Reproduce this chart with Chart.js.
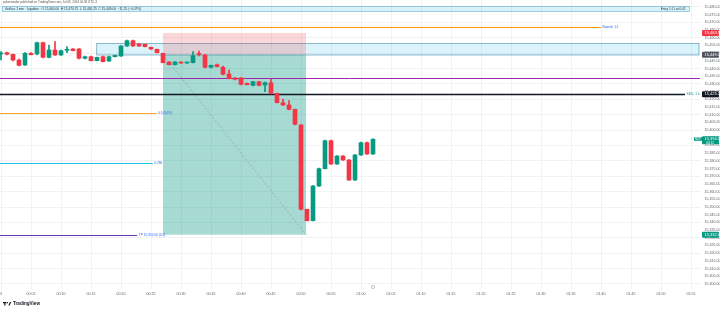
<!DOCTYPE html>
<html><head><meta charset="utf-8">
<script src="https://cdn.jsdelivr.net/npm/chart.js@4/dist/chart.umd.min.js"></script>
<style>html,body{margin:0;padding:0;background:#fff}canvas{display:block}</style>
</head><body>
<canvas id="c" width="720" height="310"></canvas>
<script>
// ---- data ----
const candleIndex = [0,1,2,3,4,5,6,7,8,9,10,11,12,13,14,15,16,17,18,19,20,21,22,23,24,25,26,27,28,29,30,31,32,33,34,35,36,37,38,39,40,41,42,43,44,45,46,47,48,49,50,51,52,53,54,55,56,57,58,59,60,61,62];
const openP  = [15449.45,15450.30,15449.25,15445.55,15442.30,15449.90,15449.45,15456.80,15447.30,15452.05,15448.80,15451.86,15452.70,15452.70,15446.65,15447.70,15445.10,15447.70,15444.90,15447.70,15448.15,15454.65,15458.10,15455.95,15455.76,15453.80,15452.51,15449.90,15444.25,15442.50,15444.06,15443.60,15443.80,15449.78,15448.80,15440.80,15442.50,15440.80,15436.45,15433.85,15433.85,15430.41,15429.10,15431.44,15429.30,15430.80,15423.90,15417.80,15416.30,15413.51,15403.30,15348.50,15341.10,15363.65,15374.90,15393.10,15377.95,15383.15,15380.55,15367.55,15383.80,15391.80,15384.45];
const highP  = [15450.95,15450.75,15449.45,15446.20,15450.43,15450.43,15457.25,15457.25,15455.30,15457.45,15452.05,15454.20,15453.03,15453.03,15448.15,15448.15,15447.50,15448.15,15448.15,15448.80,15454.98,15458.55,15458.55,15456.28,15455.95,15454.00,15452.70,15450.10,15444.58,15444.58,15444.25,15444.25,15450.95,15451.40,15449.13,15442.30,15442.95,15441.65,15439.05,15434.18,15434.18,15430.60,15431.70,15431.70,15431.25,15433.01,15424.10,15420.20,15419.10,15413.70,15403.63,15348.70,15363.98,15375.35,15393.55,15393.55,15383.48,15383.48,15380.88,15384.13,15392.25,15392.25,15394.53];
const lowP   = [15445.55,15448.80,15444.90,15441.65,15441.98,15448.80,15448.80,15446.85,15446.85,15448.48,15448.48,15450.30,15451.40,15446.20,15446.20,15444.90,15444.90,15444.25,15444.58,15447.50,15447.83,15454.33,15454.33,15454.33,15454.00,15452.38,15450.10,15443.60,15442.30,15442.30,15443.28,15443.28,15443.60,15448.15,15440.48,15440.48,15441.00,15435.93,15433.20,15432.68,15429.43,15429.30,15428.78,15428.78,15424.94,15423.58,15417.60,15415.98,15413.18,15403.30,15348.05,15340.90,15340.90,15363.33,15374.70,15377.63,15377.63,15380.23,15367.23,15367.23,15383.48,15384.13,15384.13];
const closeP = [15450.10,15449.25,15445.55,15442.10,15449.90,15449.00,15456.80,15447.30,15452.05,15448.80,15451.60,15452.18,15451.60,15446.65,15447.70,15445.10,15447.30,15444.45,15447.70,15448.60,15454.65,15458.10,15454.65,15454.65,15454.20,15452.70,15450.30,15443.80,15442.50,15444.25,15443.60,15444.06,15448.35,15449.13,15440.80,15442.10,15441.20,15436.26,15433.40,15433.01,15429.76,15429.50,15431.44,15429.10,15430.80,15423.90,15417.80,15416.30,15413.51,15403.76,15348.50,15341.10,15363.65,15374.90,15393.10,15377.95,15383.15,15380.55,15367.55,15383.80,15391.80,15384.45,15394.00];

const xTickIndex  = [0,5,10,15,20,25,30,35,40,45,50,55,60,65,70,75,80,85,90,95,100,105,110,115];
const xTickLabels = ["3","00:05","00:10","00:15","00:20","00:25","00:30","00:35","00:40","00:45","00:50","00:55","01:00","01:05","01:10","01:15","01:20","01:25","01:30","01:35","01:40","01:45","01:50","01:55"];
const yTickValues = [15480,15475,15470,15465,15460,15455,15450,15445,15440,15435,15430,15425,15420,15415,15410,15405,15400,15395,15390,15385,15380,15375,15370,15365,15360,15355,15350,15345,15340,15335,15330,15325,15320,15315,15310,15305,15300];

// position tool (short)
const positionFrom = 27, positionTo = 50.83;
const stopPrice = 15463.10, entryPrice = 15449.00, targetPrice = 15332.00;
// supply zone
const zoneFrom = 15.95, zoneTop = 15456.28, zoneBottom = 15448.80;
// horizontal levels
const levelPrices = [15467.20, 15434.05, 15423.25, 15411.30, 15378.40, 15332.00];
const levelFrom   = [-1, -1, -1, -1, -1, -1];
const levelTo     = [100, 116.5, 114, 25.95, 25.3, 22.7];
const levelTexts  = ["Bearish 1:1", "", "SELL 1 Lote", "0.5 (50%)", "0.786", "TP 15,332.00 (3.2)"];
const noteText = "Gráfico 1 min · Liquidez · O 15,460.00  H 15,470.75  L 15,440.25  C 15,449.00  −11.25 (−0.07%)";
const noteRight = "Entry 1:1 Lot 0.01";
const headerText = "pokerwinder published on TradingView.com, Jul 03, 2024 00:58 UTC-3";

// ---- styles ----
const UP = '#089981', DOWN = '#F23645';
const levelColors = ['#ff9800', '#9c27b0', '#131722', '#ffa726', '#26c6da', '#673ab7'];
const levelTextColors = ['#2962ff', '#2962ff', '#089981', '#2962ff', '#2962ff', '#2962ff'];
const FONT = "'Liberation Sans', Arial, sans-serif";

const isUp = candleIndex.map((_, i) => closeP[i] >= openP[i]);
const colors = isUp.map(u => u ? UP : DOWN);
const fmt = v => v.toLocaleString('en-US', {minimumFractionDigits: 2, maximumFractionDigits: 2});

const drawings = {
  id: 'drawings',
  beforeDatasetsDraw(chart) {
    const {ctx, chartArea: a, scales: {x, y}} = chart;
    const X = v => x.getPixelForValue(v), Y = v => y.getPixelForValue(v);
    ctx.save();
    ctx.beginPath(); ctx.rect(a.left, a.top, a.right - a.left, a.bottom - a.top); ctx.clip();
    // note banner
    const bx0 = X(0.17), bx1 = X(114.8), by0 = Y(15480.65), by1 = Y(15477.0);
    ctx.fillStyle = 'rgba(0,172,230,0.16)';
    ctx.fillRect(bx0, by0, bx1 - bx0, by1 - by0);
    ctx.strokeStyle = 'rgba(60,150,190,0.7)'; ctx.lineWidth = 0.6;
    ctx.strokeRect(bx0 + 0.3, by0 + 0.3, bx1 - bx0 - 0.6, by1 - by0 - 0.6);
    ctx.fillStyle = '#2a3340'; ctx.font = '3.2px ' + FONT; ctx.textBaseline = 'middle';
    ctx.textAlign = 'left'; ctx.fillText(noteText, bx0 + 3, (by0 + by1) / 2);
    ctx.textAlign = 'right'; ctx.fillText(noteRight, bx1 - 4, (by0 + by1) / 2);
    // supply zone
    const zx0 = X(zoneFrom), zx1 = a.right - 1, zy0 = Y(zoneTop), zy1 = Y(zoneBottom);
    ctx.fillStyle = 'rgba(0,172,230,0.14)';
    ctx.fillRect(zx0, zy0, zx1 - zx0, zy1 - zy0);
    ctx.strokeStyle = 'rgba(70,140,170,0.75)'; ctx.lineWidth = 0.8;
    ctx.strokeRect(zx0, zy0, zx1 - zx0, zy1 - zy0);
    // position tool
    const px0 = X(positionFrom), px1 = X(positionTo);
    ctx.fillStyle = 'rgba(242,54,69,0.2)';
    ctx.fillRect(px0, Y(stopPrice), px1 - px0, Y(entryPrice) - Y(stopPrice));
    ctx.fillStyle = 'rgba(8,153,129,0.36)';
    ctx.fillRect(px0, Y(entryPrice), px1 - px0, Y(targetPrice) - Y(entryPrice));
    ctx.strokeStyle = 'rgba(110,115,125,0.55)'; ctx.lineWidth = 0.7; ctx.setLineDash([2, 2]);
    ctx.beginPath(); ctx.moveTo(px0, Y(entryPrice)); ctx.lineTo(px1, Y(targetPrice)); ctx.stroke();
    ctx.setLineDash([]);
    // levels
    levelPrices.forEach((p, k) => {
      const yy = Math.round(Y(p)) + 0.5;
      ctx.strokeStyle = levelColors[k]; ctx.lineWidth = k === 2 ? 1.3 : 1;
      ctx.beginPath(); ctx.moveTo(X(levelFrom[k]), yy); ctx.lineTo(X(levelTo[k]), yy); ctx.stroke();
      if (levelTexts[k]) {
        ctx.fillStyle = levelTextColors[k]; ctx.font = '3.2px ' + FONT;
        ctx.textAlign = 'left'; ctx.textBaseline = 'middle';
        ctx.fillText(levelTexts[k], X(levelTo[k]) + 1.5, yy);
      }
    });
    ctx.restore();
  },
  afterDraw(chart) {
    const {ctx, chartArea: a, scales: {x, y}} = chart;
    const Y = v => y.getPixelForValue(v);
    ctx.save();
    const tag = (price, bg, fg, h) => {
      const yy = Y(price);
      ctx.fillStyle = bg;
      ctx.beginPath(); ctx.roundRect(702, yy - 3, 17, h || 6, 1); ctx.fill();
      ctx.fillStyle = fg; ctx.font = '4px ' + FONT; ctx.textAlign = 'left'; ctx.textBaseline = 'middle';
      ctx.fillText(fmt(price), 704.5, yy);
    };
    tag(stopPrice, DOWN, '#fff');
    tag(entryPrice, '#50535e', '#fff');
    tag(levelPrices[2], '#131722', '#fff');
    const last = closeP[closeP.length - 1];
    tag(last, UP, '#fff', 8);
    ctx.fillStyle = UP; ctx.fillRect(694, Y(last) - 2, 8, 3.5);
    ctx.fillStyle = '#fff'; ctx.font = '2.6px ' + FONT; ctx.textAlign = 'left';
    ctx.fillText('NQ1!', 695, Y(last) - 0.3);
    ctx.font = '3.2px ' + FONT; ctx.fillText('00:12', 706, Y(last) + 3.4);
    tag(targetPrice, UP, '#fff');
    // header
    ctx.fillStyle = '#555'; ctx.font = '3px ' + FONT; ctx.textAlign = 'left'; ctx.textBaseline = 'middle';
    ctx.fillText(headerText, 3, 2.4);
    // session icon
    ctx.strokeStyle = '#9598a1'; ctx.lineWidth = 0.6;
    ctx.beginPath(); ctx.arc(x.getPixelForValue(62), 287, 1.6, 0, Math.PI * 2); ctx.stroke();
    // TradingView logo
    ctx.fillStyle = '#131722';
    ctx.fillRect(3, 302, 3, 1.3); ctx.fillRect(4.3, 302, 1.2, 3.6);
    ctx.beginPath(); ctx.arc(7.2, 302.7, 0.8, 0, Math.PI * 2); ctx.fill();
    ctx.beginPath(); ctx.moveTo(8.3, 305.6); ctx.lineTo(10, 302); ctx.lineTo(11.3, 302); ctx.lineTo(9.6, 305.6); ctx.fill();
    ctx.font = 'bold 4.6px ' + FONT; ctx.textBaseline = 'middle';
    ctx.fillText('TradingView', 13, 303.9);
    ctx.restore();
  }
};

new Chart(document.getElementById('c'), {
  type: 'bar',
  data: {
    datasets: [
      {
        label: 'wick', order: 2, grouped: false, barThickness: 1, minBarLength: 1,
        data: candleIndex.map((i) => ({x: i, y: [lowP[i], highP[i]]})),
        backgroundColor: colors, borderWidth: 0
      },
      {
        label: 'body', order: 1, grouped: false, barThickness: 4, minBarLength: 1,
        data: candleIndex.map((i) => ({x: i, y: [openP[i], closeP[i]]})),
        backgroundColor: colors, borderWidth: 0
      }
    ]
  },
  options: {
    responsive: false, animation: false, devicePixelRatio: 1,
    layout: {padding: {left: 0, right: 0, top: 0, bottom: 13}},
    plugins: {legend: {display: false}, tooltip: {enabled: false}},
    scales: {
      x: {
        type: 'linear', offset: false, min: -0.1667, max: 116.5,
        grid: {offset: false, drawTicks: false, color: '#f0f2f6', lineWidth: 1},
        border: {display: false},
        afterBuildTicks: s => { s.ticks = xTickIndex.map(v => ({value: v})); },
        afterFit: s => { s.height = 8; s.paddingLeft = 0; s.paddingRight = 0; },
        ticks: {
          autoSkip: false, maxRotation: 0, padding: 3, color: '#5d606b',
          font: {size: 3.6, family: FONT},
          callback: (v) => xTickLabels[xTickIndex.indexOf(v)]
        }
      },
      y: {
        type: 'linear', position: 'right', min: 15296.70, max: 15484.55, beginAtZero: false,
        grid: {drawTicks: false, color: (c) => (c.index % 2 === 0 ? '#f0f2f6' : 'rgba(0,0,0,0)')},
        border: {display: false},
        afterBuildTicks: s => { s.ticks = yTickValues.map(v => ({value: v})); },
        afterFit: s => { s.width = 20; s.paddingTop = 0; s.paddingBottom = 0; },
        ticks: {
          padding: 4.5, color: '#5d606b', font: {size: 3.6, family: FONT},
          callback: v => fmt(v)
        }
      }
    }
  },
  plugins: [drawings]
});
</script>
</body></html>
